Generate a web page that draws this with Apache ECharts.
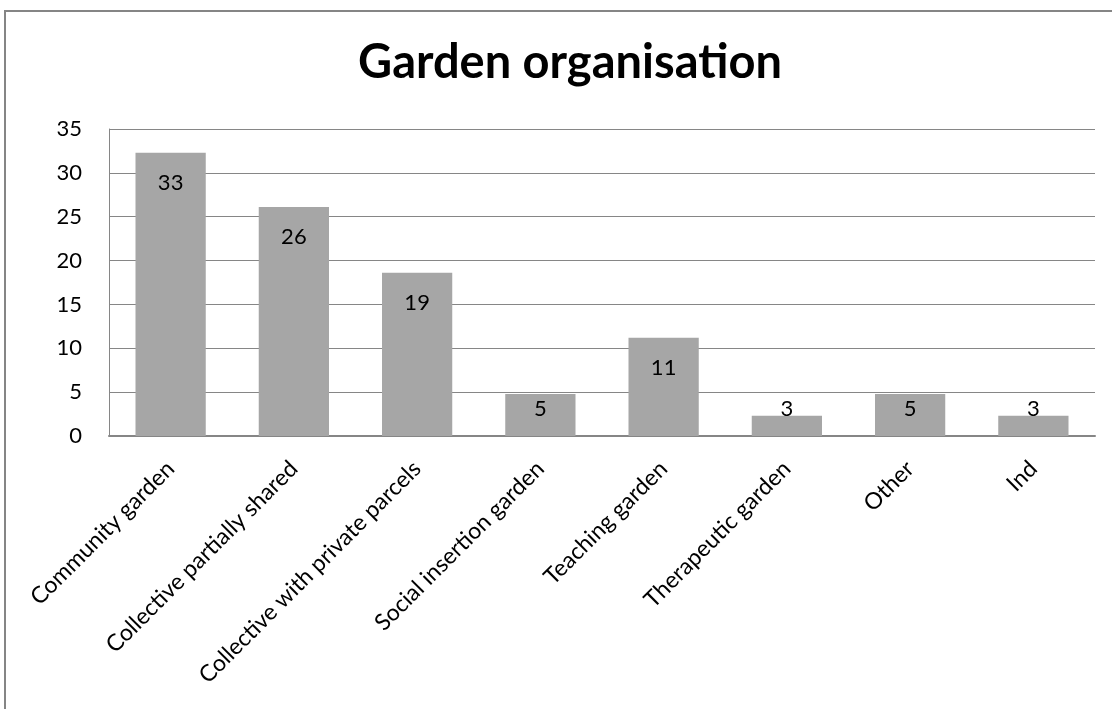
<!DOCTYPE html>
<html>
<head>
<meta charset="utf-8">
<title>Garden organisation</title>
<script src="https://cdn.jsdelivr.net/npm/echarts@6/dist/echarts.min.js"></script>
<style>
  html, body { margin: 0; padding: 0; background: #fff; }
  #wrap { position: relative; width: 1112px; height: 709px; overflow: hidden; }
  #frame { position: absolute; left: 4px; top: 10px; width: 1200px; height: 800px;
           border-left: 2px solid #858585; border-top: 2px solid #858585; }
  #main { position: absolute; left: 0; top: 0; width: 1112px; height: 709px; }
</style>
</head>
<body>
<div id="wrap">
  <div id="frame"></div>
  <div id="main"></div>
</div>
<script>
// categories on the x axis
var categories = ['Community garden', 'Collective partially shared', 'Collective with private parcels',
  'Social insertion garden', 'Teaching garden', 'Therapeutic garden', 'Other', 'Ind'];
// bar heights
var values = [32.3, 26.1, 18.6, 4.8, 11.2, 2.3, 4.8, 2.3];
// labels printed on the bars
var barLabels = ['33', '26', '19', '5', '11', '3', '5', '3'];
// y axis ticks
var yMin = 0, yMax = 35, yStep = 5;

var font = 'Lato, "Open Sans", sans-serif';

// short bars get their label pinned near the bottom, like in the original
var barData = values.map(function (v, i) {
  var lbl = v < 8
    ? { position: 'insideBottom', distance: 16 }
    : { position: 'insideTop', distance: 19 };
  lbl.formatter = barLabels[i];
  return { value: v, label: lbl };
});

var myChart = echarts.init(document.getElementById('main'));
var option = {
  backgroundColor: 'transparent',
  animation: false,
  title: {
    text: 'Garden organisation',
    left: 565,
    top: 34,
    textAlign: 'center',
    textStyle: { fontFamily: font, fontWeight: 'bold', fontSize: 47, color: '#000' }
  },
  grid: { left: 109, right: 17, top: 129, bottom: 273 },
  xAxis: {
    type: 'category',
    data: categories,
    axisTick: { show: false },
    axisLine: { lineStyle: { color: '#868686', width: 2 } },
    axisLabel: { interval: 0, rotate: 45, margin: 29, fontFamily: font, fontSize: 23, color: '#000' }
  },
  yAxis: {
    type: 'value',
    min: yMin,
    max: yMax,
    interval: yStep,
    axisLine: { show: true, lineStyle: { color: '#868686', width: 1 } },
    axisTick: { show: false },
    splitLine: { lineStyle: { color: '#868686', width: 1 } },
    axisLabel: { margin: 27, fontFamily: font, fontSize: 22, color: '#000' }
  },
  series: [{
    type: 'bar',
    data: barData,
    barCategoryGap: '43%',
    itemStyle: { color: '#a6a6a6' },
    label: { show: true, fontFamily: font, fontSize: 22, color: '#000' }
  }]
};
myChart.setOption(option);
</script>
</body>
</html>
